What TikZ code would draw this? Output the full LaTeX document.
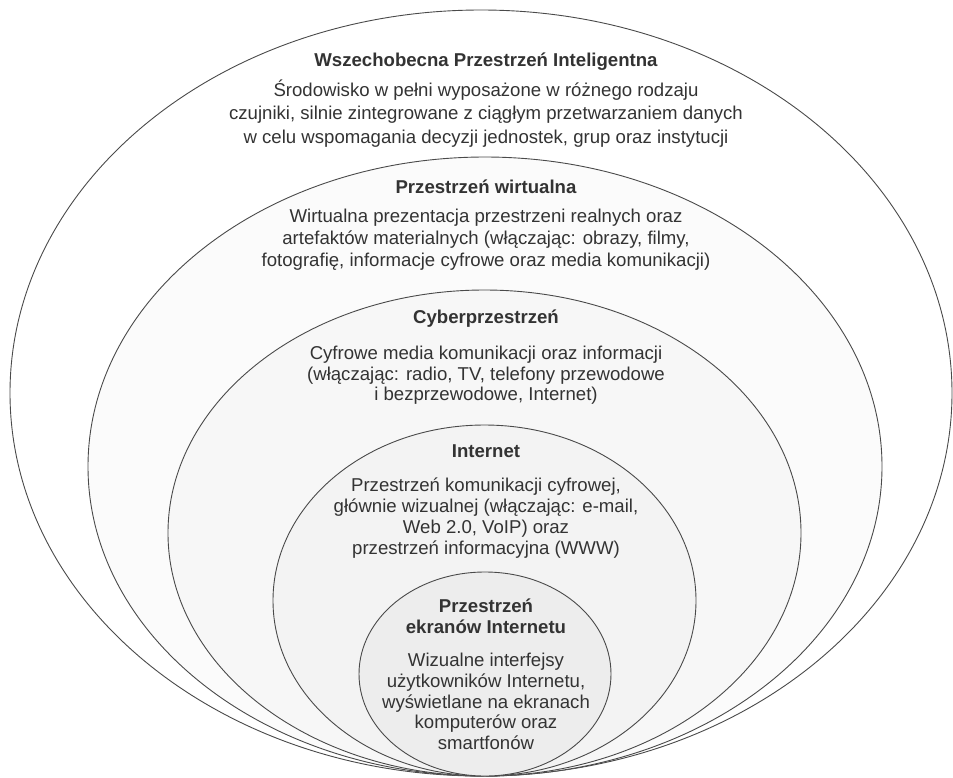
\documentclass[tikz,border=0pt]{standalone}
\usepackage{fontspec}
\setmainfont{Liberation Sans}
\definecolor{ink}{HTML}{333333}
\definecolor{edge}{HTML}{4A4A4A}
\definecolor{f1}{HTML}{FFFFFF}
\definecolor{f2}{HTML}{FBFBFB}
\definecolor{f3}{HTML}{F7F7F7}
\definecolor{f4}{HTML}{F3F3F3}
\definecolor{f5}{HTML}{EDEDED}
\begin{document}
\begin{tikzpicture}[x=1pt,y=-1pt,
  ring/.style={draw=edge,line width=0.9pt},
  ttl/.style={inner sep=0pt,align=center,text=ink,font=\fontsize{18.6}{21}\selectfont\bfseries},
  body/.style={inner sep=0pt,align=center,text=ink,font=\fontsize{18.6}{#1}\selectfont},
  body/.default=21]
\useasboundingbox (0,0) rectangle (953,777);
\fill[white] (0,0) rectangle (953,777);
% rings
\draw[ring,fill=f1] (481,393) ellipse [x radius=471,y radius=383];
\draw[ring,fill=f2] (485,466.5) ellipse [x radius=397,y radius=309.5];
\draw[ring,fill=f3] (484.5,533) ellipse [x radius=316.5,y radius=243];
\draw[ring,fill=f4] (484.5,600.5) ellipse [x radius=211.5,y radius=175.5];
\draw[ring,fill=f5] (485,674) ellipse [x radius=126,y radius=102];
% texts
\node[ttl] (t1) at (486,62) {Wszechobecna Przestrzeń Inteligentna};
\node[body=23.3] (b1) at (486,113.5) {Środowisko w pełni wyposażone w różnego rodzaju\\czujniki, silnie zintegrowane z ciągłym przetwarzaniem danych\\w celu wspomagania decyzji jednostek, grup oraz instytucji};
\node[ttl] (t2) at (486,187) {Przestrzeń wirtualna};
\node[body=22] (b2) at (486,240) {Wirtualna prezentacja przestrzeni realnych oraz\\artefaktów materialnych (włączając: obrazy, filmy,\\fotografię, informacje cyfrowe oraz media komunikacji)};
\node[ttl] (t3) at (486,319) {Cyberprzestrzeń};
\node[body=20.5] (b3) at (486,375.5) {Cyfrowe media komunikacji oraz informacji\\(włączając: radio, TV, telefony przewodowe\\i bezprzewodowe, Internet)};
\node[ttl] (t4) at (486,451) {Internet};
\node[body=21] (b4) at (486,518.5) {Przestrzeń komunikacji cyfrowej,\\głównie wizualnej (włączając: e-mail,\\Web 2.0, VoIP) oraz\\przestrzeń informacyjna (WWW)};
\node[ttl] (t5) at (486,616.5) {Przestrzeń\\ekranów Internetu};
\node[body=20.75] (b5) at (486,701.5) {Wizualne interfejsy\\użytkowników Internetu,\\wyświetlane na ekranach\\komputerów oraz\\smartfonów};
\end{tikzpicture}
\end{document}
